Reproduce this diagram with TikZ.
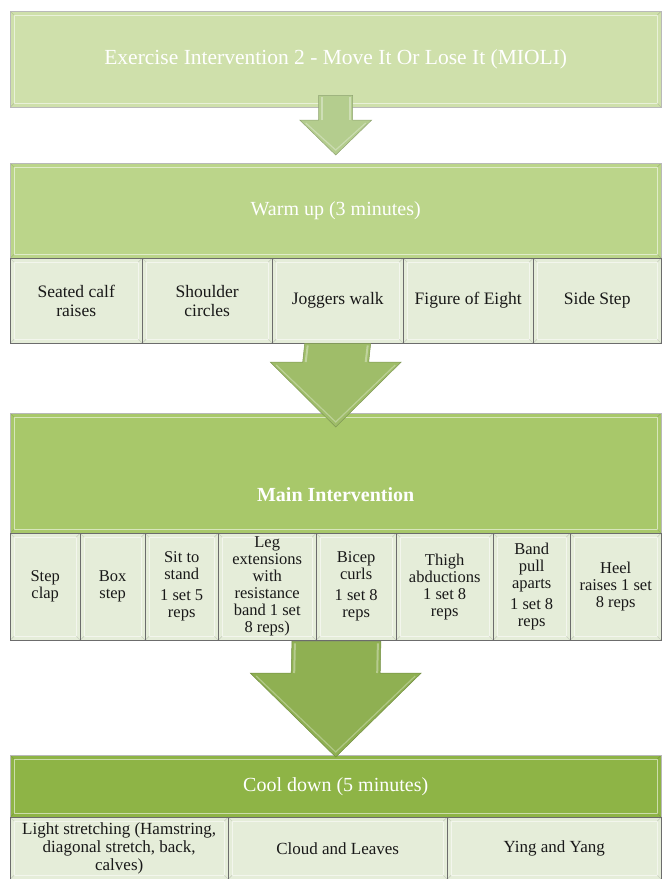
\documentclass[tikz,border=0pt]{standalone}
\usepackage{fontspec}
\setmainfont{Liberation Serif}
\usetikzlibrary{calc}

\definecolor{titlegreen}{HTML}{CFE0AB}
\definecolor{warmgreen}{HTML}{BBD58A}
\definecolor{maingreen}{HTML}{A8C86A}
\definecolor{coolgreen}{HTML}{8EB446}
\definecolor{subgreen}{HTML}{E5EDD9}
\definecolor{arrowA}{HTML}{B4CD8E}
\definecolor{arrowB}{HTML}{9FBD69}
\definecolor{arrowC}{HTML}{8FB052}

\tikzset{bevel/.style={path picture={
    \draw[white,opacity=.55,line width=1.3pt]
      ([shift={(4pt,-4pt)}]path picture bounding box.north west) rectangle
      ([shift={(-4pt,4pt)}]path picture bounding box.south east);
    \draw[black,opacity=.12,line width=.6pt]
      (path picture bounding box.north west) -- ++(4pt,-4pt)
      (path picture bounding box.north east) -- ++(-4pt,-4pt)
      (path picture bounding box.south west) -- ++(4pt,4pt)
      (path picture bounding box.south east) -- ++(-4pt,4pt);}}}
\tikzstyle{headbox}=[draw=gray!55,anchor=north west,inner sep=0pt,bevel,
  text=white,font=\fontsize{20}{24}\selectfont]
\tikzstyle{subbox}=[draw=gray!85!black,fill=subgreen,anchor=north west,inner sep=0pt,
  bevel,align=center,text=black!90]
\tikzstyle{blockarrow}=[line width=.5pt,line join=miter]

% block arrow: start, tip, shaft half width, head half width, head length, colour
\newcommand{\downarrowblock}[6]{%
  \path (#1) coordinate (ba-s) (#2) coordinate (ba-t);
  \filldraw[blockarrow,fill=#6,draw=#6!80!black]
    ($(ba-s)+(-#3,0)$) -- ($(ba-s)+(#3,0)$) -- ($(ba-t)+(#3,-#5)$) -- ($(ba-t)+(#4,-#5)$)
    -- (ba-t) -- ($(ba-t)+(-#4,-#5)$) -- ($(ba-t)+(-#3,-#5)$) -- cycle;
  \draw[white,opacity=.35,line width=2pt]
    ($(ba-s)+(-#3+3,2)$) -- ($(ba-t)+(-#3+3,-#5)$)
    ($(ba-s)+(#3-3,2)$) -- ($(ba-t)+(#3-3,-#5)$);
  \draw[white,opacity=.3,line width=1.2pt]
    ($(ba-t)+(-#4+6,-#5+3)$) -- ($(ba-t)+(0,-5)$) -- ($(ba-t)+(#4-6,-#5+3)$);}

\begin{document}
\begin{tikzpicture}[x=1pt,y=-1pt]
    \useasboundingbox (0,0) rectangle (662,879);

    % headers
    \node[headbox,fill=titlegreen,minimum width=651pt,minimum height=96pt,
        font=\fontsize{21.5}{24}\selectfont] (title) at (10,11)
        {Exercise Intervention 2 - Move It Or Lose It (MIOLI)};
    \node[headbox,fill=warmgreen,minimum width=651pt,minimum height=95pt] (warm) at (10,163)
        {Warm up (3 minutes)};
    \node[headbox,fill=maingreen,minimum width=651pt,minimum height=120pt] (main) at (10,413) {};
    \node[text=white,font=\fontsize{20}{24}\selectfont\bfseries] (mainlbl) at ($(main.south)+(0,-39)$)
        {Main Intervention};
    \node[headbox,fill=coolgreen,minimum width=651pt,minimum height=62pt] (cool) at (10,755)
        {Cool down (5 minutes)};

    % warm up steps
    \foreach \n/\a/\b/\t in {ws1/10/142/{Seated calf\\raises},ws2/142/272/{Shoulder\\circles},
        ws3/272/403/{Joggers walk},ws4/403/533/{Figure of Eight},ws5/533/661/{Side Step}}{
      \pgfmathsetmacro\w{\b-\a}
      \node[subbox,font=\fontsize{17.5}{19}\selectfont,minimum width=\w pt,minimum height=85pt] (\n) at (\a,258) {\t};
    }

    % main steps
    \foreach \n/\a/\b/\t in {ms1/10/80/{Step\\clap},ms2/80/145/{Box\\step},
        ms3/145/218/{Sit to\\stand\\[4pt]1 set 5\\reps},
        ms4/218/316/{Leg\\extensions\\with\\resistance\\band 1 set\\8 reps)},
        ms5/316/396/{Bicep\\curls\\[4pt]1 set 8\\reps},ms6/396/493/{Thigh\\abductions\\1 set 8\\reps},
        ms7/493/570/{Band\\pull\\aparts\\[4pt]1 set 8\\reps},ms8/570/661/{Heel\\raises 1 set\\8 reps}}{
      \pgfmathsetmacro\w{\b-\a}
      \node[subbox,font=\fontsize{16.5}{17}\selectfont,minimum width=\w pt,minimum height=107pt] (\n) at (\a,533) {\t};
    }

    % cool down steps
    \foreach \n/\a/\b/\t in {cs1/10/228/{Light stretching (Hamstring,\\diagonal stretch, back,\\calves)},
        cs2/228/447/{Cloud and Leaves},cs3/447/661/{Ying and Yang}}{
      \pgfmathsetmacro\w{\b-\a}
      \node[subbox,font=\fontsize{17}{18}\selectfont,minimum width=\w pt,minimum height=62pt] (\n) at (\a,817) {\t};
    }

    % arrows between stages
    \downarrowblock{$(title.south)+(0,-12)$}{$(warm.north)+(0,-8)$}{17}{36}{35}{arrowA}
    \downarrowblock{ws3.south}{$(main.north)+(0,14)$}{33}{65.5}{65}{arrowB}
    \downarrowblock{$(ms4.south east)+(20,1)$}{$(cool.north)+(0,2)$}{44.5}{85.5}{84}{arrowC}
\end{tikzpicture}
\end{document}
